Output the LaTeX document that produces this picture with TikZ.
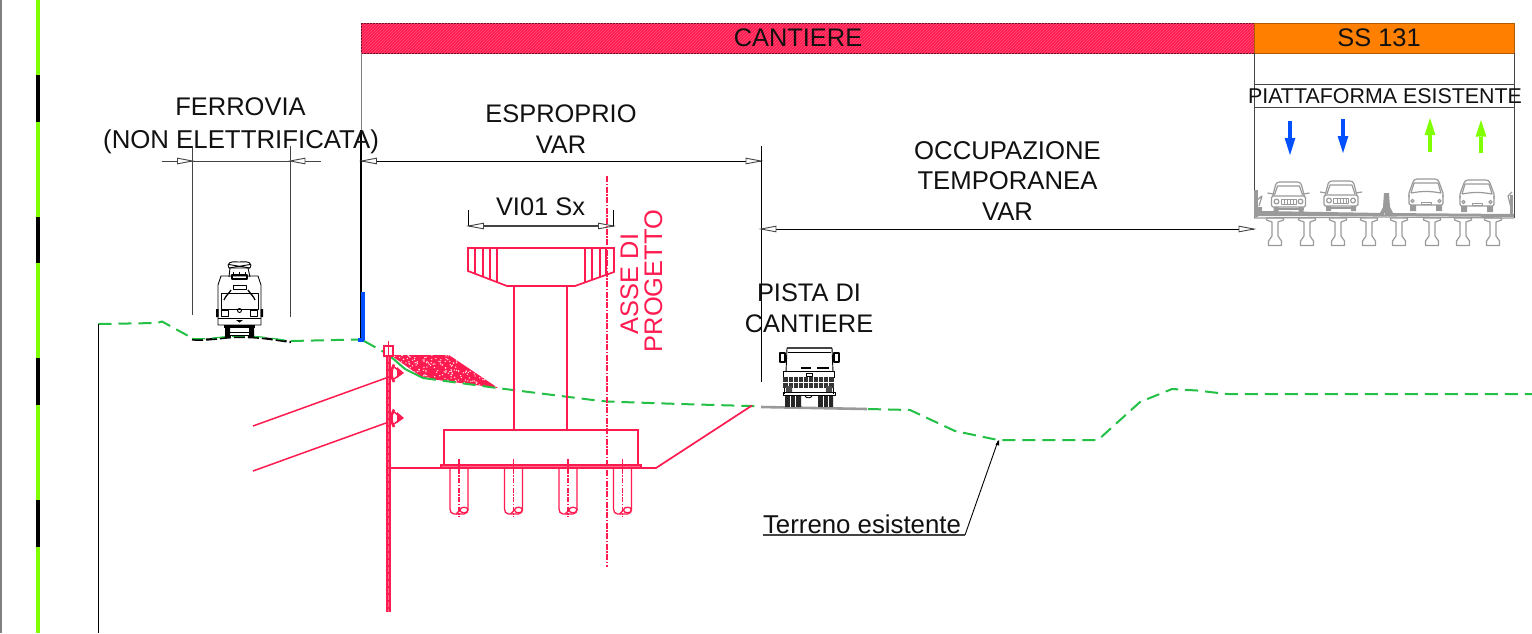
\documentclass[tikz,border=0pt]{standalone}
\usepackage{fontspec}
\setmainfont{Liberation Sans}
\usetikzlibrary{patterns}
\definecolor{crim}{HTML}{FF1A50}
\definecolor{crimlt}{HTML}{FF6A88}
\definecolor{orng}{HTML}{FF8000}
\definecolor{limeg}{HTML}{80FF00}
\definecolor{blu}{HTML}{0050FF}
\definecolor{terr}{HTML}{22C045}
\definecolor{txtk}{HTML}{111111}
\definecolor{gline}{HTML}{444444}
\definecolor{carg}{HTML}{9A9A9A}
\tikzset{
  lab/.style={font=\fontsize{25.4}{30}\selectfont,inner sep=0pt,outer sep=0pt,anchor=base,text=txtk},
  labred/.style={lab,text=crim,rotate=90},
  thinl/.style={draw=gline,line width=1pt},
  blk/.style={draw=black,line width=1pt},
  tip/.style={draw=gline,fill=white,line width=0.9pt},
  terrain/.style={draw=terr,line width=2pt,dash pattern=on 13pt off 7pt},
  red/.style={draw=crim,line width=1.7pt},
  redthin/.style={draw=crim,line width=1.3pt},
  cardraw/.style={draw=carg,line width=1.2pt,line join=round},
}
% open dimension tips: point at (#1,#2), tail toward #3 = +/-1
\newcommand{\dimtip}[3]{\draw[tip] (#1,#2) -- ({#1+#3*15},{#2-2.8}) -- ({#1+#3*15},{#2+2.8}) -- cycle;}
\newcommand{\flowarrow}[4]{% x, ytail, yhead, colour
  \fill[#4] ({#1-2.2},#2) rectangle ({#1+2.2},{#3+(#2-#3)*0.5});
  \fill[#4] ({#1-5.4},{#3+(#2-#3)*0.5}) -- ({#1+5.4},{#3+(#2-#3)*0.5}) -- (#1,#3) -- cycle;}
\newcommand{\sedan}[2]{\begin{scope}[shift={(#1,#2)}]
  \draw[cardraw] (-16,-15) -- (-13,-27) to[out=75,in=180] (-9,-30) -- (9,-30) to[out=0,in=105] (13,-27) -- (16,-15);
  \draw[cardraw] (-14,-17) -- (-11,-26) -- (11,-26) -- (14,-17);
  \draw[cardraw,rounded corners=1.5pt] (-17,-16) rectangle (17,-5);
  \draw[cardraw] (-21,-19) -- (-15,-18) (21,-19) -- (15,-18);
  \draw[cardraw,line width=.8pt] (-7.5,-13) rectangle (7.5,-8);
  \draw[cardraw,line width=.6pt] (-4,-13)--(-4,-8) (-1,-13)--(-1,-8) (2,-13)--(2,-8) (5,-13)--(5,-8);
  \draw[cardraw] (-12,-10.5) circle (2.4) (12,-10.5) circle (2.4);
  \fill[carg] (-15,-5) rectangle (-10,0) (10,-5) rectangle (15,0);
  \draw[cardraw] (-15,-3) -- (15,-3);
\end{scope}}
\newcommand{\hatch}[2]{\begin{scope}[shift={(#1,#2)}]
  \draw[cardraw] (-17,-14) -- (-17,-18) -- (-13,-29) to[out=70,in=180] (-9,-32) -- (9,-32) to[out=0,in=110] (13,-29) -- (17,-18) -- (17,-14);
  \draw[cardraw] (-15,-18) -- (-12,-28) -- (12,-28) -- (15,-18) to[out=170,in=10] (-15,-18);
  \draw[cardraw,rounded corners=1.5pt] (-17,-16) -- (-17,-6) -- (17,-6) -- (17,-16);
  \draw[cardraw,line width=.9pt] (-5,-9) rectangle (5,-6.5);
  \draw[cardraw] (-13.5,-10) circle (1.6) (13.5,-10) circle (1.6);
  \fill[carg] (-16,-6) rectangle (-10,0) (10,-6) rectangle (16,0);
\end{scope}}
\newcommand{\girder}[1]{\begin{scope}[shift={(#1,0)}]
  \draw[cardraw] (-8.5,218) -- (8.5,218) -- (8.5,220) -- (3,222) -- (3,236) -- (6.5,241) -- (6.5,245.5) -- (-6.5,245.5) -- (-6.5,241) -- (-3,236) -- (-3,222) -- (-8.5,220) -- cycle;
\end{scope}}
\newcommand{\pile}[1]{\begin{scope}[shift={(#1,0)}]
  \draw[redthin] (-9,468) -- (-9,509) to[out=-90,in=180] (-5,514) -- (4,514) -- (5,514) to[out=0,in=-90] (9,509) -- (9,468);
  \draw[redthin] (5,510) ellipse (4 and 2.8);
  \draw[redthin] (-3,514) to[out=20,in=-130] (1,509);
  \draw[draw=crim,line width=1.1pt,dash pattern=on 5pt off 1.5pt on 1.5pt off 1.5pt] (0,459) -- (0,517);
\end{scope}}
\newcommand{\anchorhead}[1]{\begin{scope}[shift={(0,#1)}]
  \draw[draw=crim,line width=2.6pt] (394,-8.5) to[out=-120,in=120] (394,9);
  \draw[draw=crim,line width=1.5pt] (394,-6) to[out=-20,in=110] (399,0) to[out=-110,in=20] (394,6);
  \fill[crim] (397,-6) -- (404,0) -- (397,5) -- cycle;
\end{scope}}
\begin{document}
\begin{tikzpicture}[x=1pt,y=-1pt]
\useasboundingbox (0,0) rectangle (1532,633);
\fill[white] (0,0) rectangle (1532,633);
% left margin
\fill[gray] (0,0) rectangle (1.5,633);
\fill[limeg] (36,0) rectangle (40,633);
\foreach \yy in {75,216.5,358,500} {\fill[black] (36,\yy) rectangle (40,{\yy+46.5});}
% top bars
\coordinate (vL) at (361,53); \coordinate (vLm) at (361,130); \coordinate (vLb) at (361,340);
\coordinate (vM) at (1254,53); \coordinate (vMb) at (1254,218);
\coordinate (vR) at (1514,53); \coordinate (vRb) at (1514,218);
\path[draw=black!60!crim,line width=.9pt,fill=crim] (361,23) rectangle (1254,53);
\fill[pattern=north east lines,pattern color=crimlt!70!crim] (361,23) rectangle (1254,53);
\path[draw=black!30!orng,line width=.8pt,fill=orng] (1254,23) rectangle (1514,53);
\node[lab] (ncant) at (798,46) {CANTIERE};
\node[lab] (nss) at (1379,46) {SS 131};
\draw[draw=gray,line width=1pt] (vL) -- (vLm);
\draw[draw=black,line width=1.2pt] (vLm) -- (vLb);
\draw[thinl] (vM) -- (vMb);
\draw[thinl] (vR) -- (vRb);
\draw[thinl] (vM |- 0,84) -- (vR |- 0,84);
\draw[thinl] (vM |- 0,107) -- (vR |- 0,107);
\node[lab,font=\fontsize{21.4}{26}\selectfont] (npiatt) at (1385,103) {PIATTAFORMA ESISTENTE};
% flow arrows
\flowarrow{1290}{121}{155}{blu}
\flowarrow{1343}{119}{153}{blu}
\flowarrow{1430}{152}{118}{limeg}
\flowarrow{1481}{153}{120}{limeg}
% dimensions
\coordinate (f1) at (162,161); \coordinate (f2) at (321,161);
\draw[thinl] (f1) -- (f2);
\coordinate (fa) at (192.5,146); \coordinate (fab) at (192.5,315);
\coordinate (fc) at (290,146); \coordinate (fcb) at (290,317);
\draw[thinl] (fa) -- (fab);
\draw[thinl] (fc) -- (fcb);
\dimtip{192.5}{161}{-1}
\dimtip{290}{161}{1}
\coordinate (e1) at (361,161); \coordinate (e2) at (761,161);
\draw[blk] (e1) -- (e2);
\dimtip{361.5}{161}{1}
\dimtip{761}{161}{-1}
\coordinate (t0) at (761,146); \coordinate (t0b) at (761,382);
\draw[blk] (t0) -- (t0b);
\coordinate (o1) at (761,229); \coordinate (o2) at (1254,229);
\draw[blk] (o1) -- (o2);
\dimtip{761}{229}{1}
\dimtip{1254}{229}{-1}
\coordinate (v1) at (468.5,226); \coordinate (v2) at (613.5,226);
\draw[draw=gline,line width=1.5pt] (v1) -- (v2);
\draw[blk,line width=.9pt] (468.5,210) -- (v1) (613.5,210) -- (v2);
\dimtip{468.5}{226}{1}
\dimtip{613.5}{226}{-1}
% labels
\node[lab,font=\fontsize{25.5}{30}\selectfont] (nfer) at (240.5,115.5) {FERROVIA};
\node[lab,font=\fontsize{25.8}{30}\selectfont] (nnon) at (241,148) {(NON ELETTRIFICATA)};
\node[lab] (nesp) at (561,122) {ESPROPRIO};
\node[lab] (nvar) at (561,153) {VAR};
\node[lab] (nvi) at (540.5,215) {VI01 Sx};
\node[lab,font=\fontsize{25.7}{30}\selectfont] (noc) at (1007.5,159) {OCCUPAZIONE};
\node[lab,font=\fontsize{25.7}{30}\selectfont] (nte) at (1007.5,189) {TEMPORANEA};
\node[lab,font=\fontsize{25.7}{30}\selectfont] (nvr) at (1007.5,220) {VAR};
\node[lab] (npis) at (809,301) {PISTA DI};
\node[lab] (npc) at (809,332) {CANTIERE};
\node[labred] (nasse) at (638,284) {ASSE DI};
\node[labred] (nprog) at (662,281) {PROGETTO};
% blue post
\coordinate (bt) at (362.8,292); \coordinate (bb) at (362.8,340);
\draw[draw=blu,line width=3.8pt] (bt) -- (bb);
\fill[blu] (357.5,337.5) rectangle (364.7,342);
% gravel
\begin{scope}
  \clip (390.5,355) -- (449,355) -- (498,388) -- (423,378) -- cycle;
  \fill[crim] (385,350) rectangle (500,390);
  \pgfmathsetseed{11}
  \foreach \i in {1,...,280} {
    \pgfmathsetmacro{\rx}{391+rnd*107}
    \pgfmathsetmacro{\ry}{355+rnd*33}
    \fill[white!85!crim] (\rx,\ry) circle (0.75);
  }
\end{scope}
% terrain
\draw[terrain] (98.5,324) -- (157,323) -- (162,321.5) -- (192,338);
\draw[draw=black,line width=2.2pt,dash pattern=on 11pt off 3pt] (192,339.5) to[out=-4,in=180] (240,337) to[out=0,in=172] (291,342);
\draw[draw=terr,line width=1.2pt,dash pattern=on 13pt off 7pt] (192,338.5) to[out=-4,in=180] (240,336) to[out=0,in=172] (291,341);
\draw[terrain] (291,341) -- (358,339.5);
\draw[terrain] (364,341) -- (384,352);
\draw[draw=terr,line width=2pt] (390,356) -- (405,369) -- (423,378);
\draw[terrain] (423,378) -- (497,388) -- (593,400) -- (607,401.5) -- (680,404) -- (750,406) -- (761,406.5);
\draw[draw=carg,line width=2.6pt] (761,407) -- (867,409);
\draw[terrain] (868,409) -- (910,410) -- (955,431) -- (998,440) -- (1098,440) -- (1140,402) -- (1172,389) -- (1197,390.5) -- (1227,394) -- (1532,394);
% left section line
\coordinate (lt) at (98.5,324); \coordinate (lb) at (98.5,633);
\draw[blk] (lt) -- (lb);
% leader
\coordinate (la) at (998,441); \coordinate (lc) at (965,535); \coordinate (ld) at (763,535);
\draw[draw=black,line width=.9pt] (la) -- (lc);
\draw[draw=gline,line width=1.3pt] (lc) -- (ld);
\fill[black] (999,440) -- (995.5,444.5) -- (999,445.5) -- cycle;
\node[lab,font=\fontsize{25.8}{30}\selectfont] (nter) at (862,533.5) {Terreno esistente};
% pier
\draw[red,line join=miter] (468,248) -- (614,248) -- (614,272) -- (575,286) -- (507,286) -- (468,271) -- cycle;
\foreach \xx/\yb in {475/274,483/277,490/280,497/282,585/282,592/280,600/277,606/275}
  {\draw[redthin] (\xx,248) -- (\xx,\yb);}
\draw[red] (514,286) -- (514,430);
\draw[red] (567,286) -- (567,430);
\draw[red] (444,465) -- (444,430) -- (638,430) -- (638,465);
\draw[red,fill=crimlt] (441,465) rectangle (641,468);
\draw[red] (390,468) -- (441,468);
\draw[red] (641,468) -- (656,468) -- (752,405.5);
\pile{459}
\pile{513.5}
\pile{568}
\pile{622.5}
% axis
\coordinate (ax1) at (607,176); \coordinate (ax2) at (607,567);
\draw[draw=crim,line width=1.3pt,dash pattern=on 6pt off 1.5pt on 1.5pt off 1.5pt] (ax1) -- (ax2);
% retaining wall
\fill[crim] (386,356) rectangle (391,612);
\draw[draw=crimlt,line width=1.1pt,dash pattern=on 5pt off 2pt] (388.5,357) -- (388.5,612);
\draw[red,fill=white] (384,346) rectangle (393,356);
\draw[redthin] (388.5,341) -- (388.5,356);
% anchors
\coordinate (a1) at (253,426); \coordinate (a1e) at (386,378);
\coordinate (a2) at (253,471); \coordinate (a2e) at (386,423);
\draw[draw=crim,line width=1.5pt] (a1) -- (a1e);
\draw[draw=crim,line width=1.5pt] (a2) -- (a2e);
\anchorhead{373}
\anchorhead{418}
% train
\begin{scope}[draw=black,line width=.9pt,line join=round]
  \draw (228,265) to[out=70,in=180] (239,262) to[out=0,in=110] (251,265) -- (250,268) -- (229,268) -- cycle;
  \draw (229,268) -- (250,264.5) (229,264.5) -- (250,268);
  \draw (230,268) -- (229,277) (248,268) -- (250,277);
  \draw[line width=1.4pt] (232,275) rectangle (247,279);
  \draw (233,272) -- (233,275) (239,272) -- (239,275) (245,272) -- (245,275);
  \draw (221,276) -- (258,276) -- (261,285) -- (261,325) -- (218,325) -- (218,285) -- cycle;
  \draw (221,293) -- (258,293) -- (258,309) -- (221,309) -- cycle;
  \draw (233,285) rectangle (246,289);
  \draw[line width=1.3pt] (224,300) to[out=70,in=-120] (231,290) (255,300) to[out=110,in=-60] (248,290);
  \draw (221,310) rectangle (228,316) (250,310) rectangle (257,316);
  \draw (239.5,310.5) circle (2);
  \fill[black] (216,309) rectangle (218.5,317) (260.5,309) rectangle (263,317);
  \draw (218,318) -- (261,318);
  \fill[black] (224,325) rectangle (255,328);
  \fill[black] (225,328) rectangle (230,337) (249,328) rectangle (254,337);
  \draw (230,332) -- (249,332) (230,335.5) -- (249,335.5);
  \fill[black] (236,320) -- (243,320) -- (239.5,322.5) -- cycle;
\end{scope}
% truck
\begin{scope}[draw=black,line width=.9pt,line join=round]
  \draw[line width=1.8pt,draw=gline] (787,348) -- (832,348);
  \draw (787,348) -- (786,372) (832,348) -- (833,372);
  \draw (788,352) -- (831,352);
  \draw[line width=1.2pt] (780,353) rectangle (785,362) (834,353) rectangle (839,362);
  \draw (783,371) -- (834,371) -- (834,378) (783,371) -- (783,378);
  \draw[line width=1.4pt] (801,368) -- (811,368) (817,368) -- (829,368);
  \draw (806,373) rectangle (812,376);
  \fill[black!80] (783,377) rectangle (834,388);
  \foreach \gx in {788,793,...,830} {\draw[draw=white,line width=.5pt] (\gx,377) -- (\gx,388);}
  \draw[draw=white,line width=.5pt] (783,382) -- (834,382);
  \draw (784,388) -- (784,394) (833,388) -- (833,394);
  \draw (783,392) rectangle (835,395);
  \fill[black!70] (786,386) rectangle (792,392) (826,386) rectangle (832,392);
  \fill[black!85] (785,396) rectangle (801,407) (818,396) rectangle (833,407);
  \draw[draw=white,line width=.5pt] (790,396) -- (790,407) (795,396) -- (795,407) (823,396) -- (823,407) (828,396) -- (828,407);
  \draw (805,396) to[out=-60,in=-120] (812,396);
\end{scope}
% cars and bridge
\sedan{1288.5}{212}
\sedan{1341}{211}
\hatch{1426}{211}
\hatch{1477}{212}
\fill[carg] (1254,207) -- (1262,207) -- (1262,211) -- (1384,213) -- (1385,216) -- (1260,216) -- (1254,216) -- cycle;
\fill[carg] (1385,213) -- (1514,214) -- (1514,217) -- (1385,216) -- cycle;
\draw[cardraw] (1254,218) -- (1385,217) -- (1514,218);
\fill[carg] (1380,213) -- (1383,207) -- (1384,193) -- (1389,193) -- (1390,207) -- (1393,213) -- cycle;
\fill[carg] (1254,190) rectangle (1258,217);
\draw[cardraw] (1257,200) -- (1262,196) -- (1259,206) (1512,192) -- (1508,196) -- (1511,208);
\fill[carg] (1510,195) rectangle (1513,217);
\foreach \gx in {1275,1307,1338,1369,1399,1432,1463,1493} {\girder{\gx}}
\end{tikzpicture}
\end{document}
